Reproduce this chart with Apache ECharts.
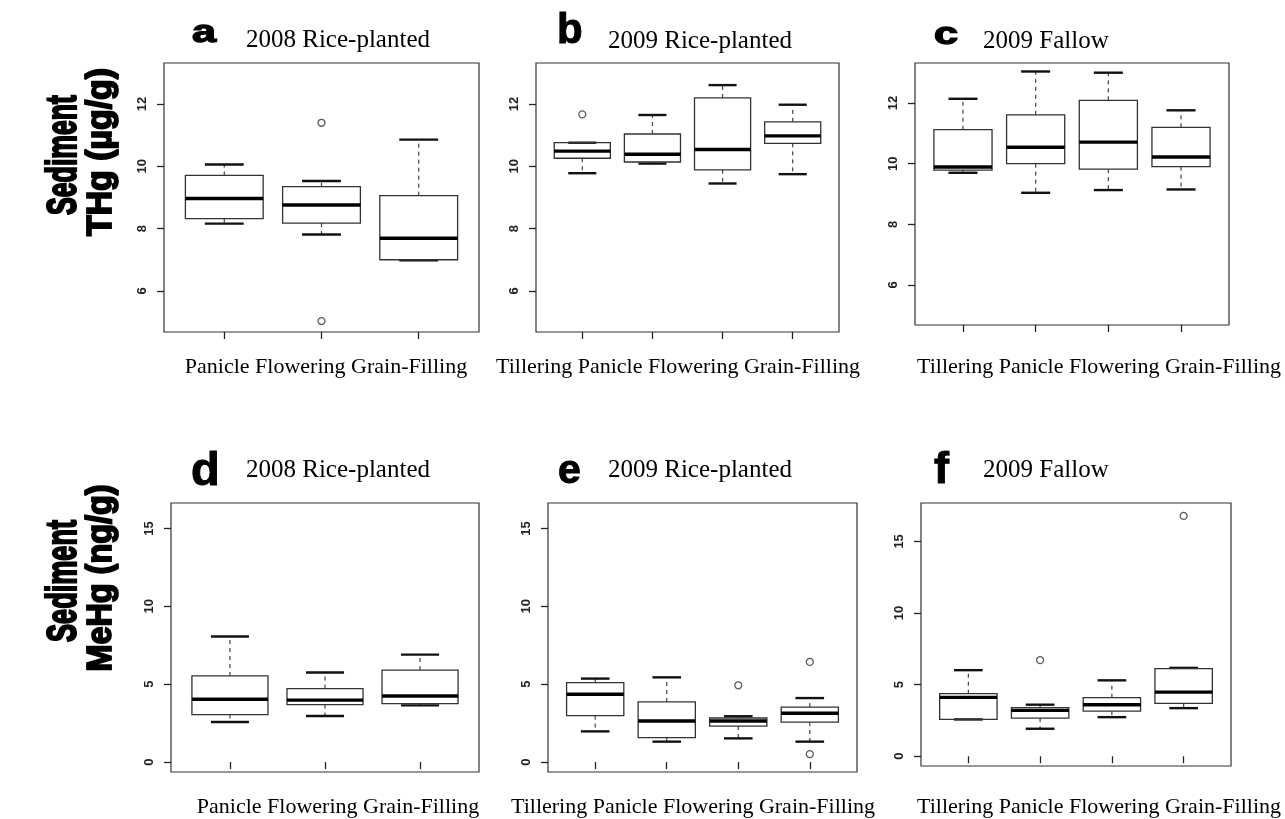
<!DOCTYPE html>
<html>
<head>
<meta charset="utf-8">
<script src="https://cdn.jsdelivr.net/npm/echarts@6/dist/echarts.min.js"></script>
<style>
html,body{margin:0;padding:0;background:#fff;}
#chart{width:1285px;height:819px;}
</style>
</head>
<body>
<div id="chart"></div>
<script>
// ---------------- DATA ----------------
const stages3 = ['Panicle', 'Flowering', 'Grain-Filling'];
const stages4 = ['Tillering', 'Panicle', 'Flowering', 'Grain-Filling'];

// box stats per stage: [lower whisker, Q1, median, Q3, upper whisker]
const thg2008Rice = [[8.16, 8.32, 8.97, 9.71, 10.06], [7.81, 8.18, 8.76, 9.35, 9.53], [6.98, 7.00, 7.69, 9.06, 10.86]];
const thg2009Rice = [[9.78, 10.26, 10.49, 10.76, 10.76], [10.09, 10.14, 10.39, 11.04, 11.65], [9.45, 9.89, 10.54, 12.20, 12.61], [9.75, 10.74, 10.98, 11.43, 11.98]];
const thg2009Fallow = [[9.70, 9.79, 9.89, 11.12, 12.14], [9.04, 10.00, 10.54, 11.61, 13.04], [9.13, 9.82, 10.71, 12.09, 13.00], [9.15, 9.90, 10.22, 11.20, 11.76]];
const mehg2008Rice = [[2.57, 3.05, 4.03, 5.53, 8.06], [2.96, 3.69, 3.98, 4.72, 5.75], [3.64, 3.75, 4.24, 5.91, 6.90]];
const mehg2009Rice = [[1.97, 2.98, 4.35, 5.10, 5.36], [1.31, 1.57, 2.64, 3.86, 5.44], [1.52, 2.31, 2.64, 2.83, 2.94], [1.31, 2.57, 3.13, 3.53, 4.11]];
const mehg2009Fallow = [[2.57, 2.57, 4.11, 4.37, 6.01], [1.92, 2.66, 3.20, 3.39, 3.60], [2.73, 3.15, 3.60, 4.09, 5.30], [3.36, 3.69, 4.48, 6.12, 6.17]];

// outliers: [stage number (1-based), value]
const thg2008RiceOut = [[2, 11.40], [2, 5.03]];
const thg2009RiceOut = [[1, 11.67]];
const thg2009FallowOut = [];
const mehg2008RiceOut = [];
const mehg2009RiceOut = [[3, 4.93], [4, 6.43], [4, 0.51]];
const mehg2009FallowOut = [[2, 6.71], [4, 16.78]];

const thgTicks = [6, 8, 10, 12];
const mehgTicks = [0, 5, 10, 15];
const thgRange = [4.68, 13.32];
const mehgRange = [-0.64, 16.64];
const mehgFallowRange = [-0.68, 17.68];

const panelLetters = ['a', 'b', 'c', 'd', 'e', 'f'];
const panelTitles = ['2008 Rice-planted', '2009 Rice-planted', '2009 Fallow', '2008 Rice-planted', '2009 Rice-planted', '2009 Fallow'];
const rowLabels = [['Sediment', 'THg (\u00b5g/g)'], ['Sediment', 'MeHg (ng/g)']];

// ---------------- LAYOUT ----------------
const panels = [
  {stats: thg2008Rice, out: thg2008RiceOut, cats: stages3, ticks: thgTicks, range: thgRange,
   grid: {left: 164, top: 63, width: 315, height: 269},
   letter: {x: 192, y: 33, size: 32, sx: 1.35, bold: 1.4}, title: {x: 246, y: 40}, xl: {x: 326, y: 367}},
  {stats: thg2009Rice, out: thg2009RiceOut, cats: stages4, ticks: thgTicks, range: thgRange,
   grid: {left: 536, top: 63, width: 303, height: 269},
   letter: {x: 557, y: 31, size: 42, sx: 1.0, bold: 1.0}, title: {x: 608, y: 41}, xl: {x: 678, y: 367}},
  {stats: thg2009Fallow, out: thg2009FallowOut, cats: stages4, ticks: thgTicks, range: thgRange,
   grid: {left: 915, top: 63, width: 314, height: 262},
   letter: {x: 934, y: 35, size: 32, sx: 1.35, bold: 1.4}, title: {x: 983, y: 41}, xl: {x: 1099, y: 367}},
  {stats: mehg2008Rice, out: mehg2008RiceOut, cats: stages3, ticks: mehgTicks, range: mehgRange,
   grid: {left: 171, top: 503, width: 308, height: 269},
   letter: {x: 191, y: 472, size: 47, sx: 1.0, bold: 1.0}, title: {x: 246, y: 470}, xl: {x: 338, y: 807}},
  {stats: mehg2009Rice, out: mehg2009RiceOut, cats: stages4, ticks: mehgTicks, range: mehgRange,
   grid: {left: 548, top: 503, width: 309, height: 269},
   letter: {x: 558, y: 472, size: 41, sx: 1.0, bold: 1.0}, title: {x: 608, y: 470}, xl: {x: 693, y: 807}},
  {stats: mehg2009Fallow, out: mehg2009FallowOut, cats: stages4, ticks: mehgTicks, range: mehgFallowRange,
   grid: {left: 921, top: 503, width: 310, height: 263},
   letter: {x: 934, y: 471, size: 45, sx: 1.0, bold: 1.0}, title: {x: 983, y: 470}, xl: {x: 1099, y: 807}}
];

const serif = '"Liberation Serif", "Times New Roman", serif';
const sans = '"Liberation Sans", Arial, Helvetica, sans-serif';

const measureCtx = document.createElement('canvas').getContext('2d');
function textWidth(text, font) { measureCtx.font = font; return measureCtx.measureText(text).width; }

function renderBox(params, api) {
  const x = api.value(0);
  const v = [1, 2, 3, 4, 5].map(k => api.value(k));
  const p = v.map(val => api.coord([x, val]));
  const cx = p[0][0];
  const hw = api.size([0.8, 0])[0] / 2;
  const cw = hw / 2;
  const yLo = p[0][1], yQ1 = p[1][1], yMed = p[2][1], yQ3 = p[3][1], yHi = p[4][1];
  const dash = {stroke: '#444', lineWidth: 1.2, lineDash: [4, 4]};
  return {
    type: 'group',
    children: [
      {type: 'line', shape: {x1: cx, y1: yQ3, x2: cx, y2: yHi}, style: dash},
      {type: 'line', shape: {x1: cx, y1: yQ1, x2: cx, y2: yLo}, style: dash},
      {type: 'line', shape: {x1: cx - cw, y1: yHi, x2: cx + cw, y2: yHi}, style: {stroke: '#111', lineWidth: 2.4}},
      {type: 'line', shape: {x1: cx - cw, y1: yLo, x2: cx + cw, y2: yLo}, style: {stroke: '#111', lineWidth: 2.4}},
      {type: 'rect', shape: {x: cx - hw, y: yQ3, width: 2 * hw, height: yQ1 - yQ3}, style: {fill: 'none', stroke: '#333', lineWidth: 1.3}},
      {type: 'line', shape: {x1: cx - hw, y1: yMed, x2: cx + hw, y2: yMed}, style: {stroke: '#000', lineWidth: 3.4}}
    ]
  };
}

const grids = [], xAxes = [], yAxes = [], series = [], graphics = [];
panels.forEach((pn, i) => {
  const n = pn.cats.length;
  const ext = n * 0.04;
  grids.push(Object.assign({show: true, borderColor: '#333', borderWidth: 1.2, backgroundColor: 'transparent'}, pn.grid));
  const xt = pn.cats.map((c, k) => k + 1);
  xAxes.push({
    type: 'value', gridIndex: i, min: 0.5 - ext, max: n + 0.5 + ext,
    axisLine: {show: false}, splitLine: {show: false},
    axisTick: {show: true, customValues: xt, length: 7, lineStyle: {color: '#222', width: 1.3}},
    axisLabel: {show: false}
  });
  yAxes.push({
    type: 'value', gridIndex: i, min: pn.range[0], max: pn.range[1],
    axisLine: {show: false}, splitLine: {show: false},
    axisTick: {show: true, customValues: pn.ticks, length: 7, lineStyle: {color: '#222', width: 1.3}},
    axisLabel: {show: true, customValues: pn.ticks, rotate: 90, margin: 15, color: '#222',
      fontFamily: sans, fontSize: 13, fontWeight: 'bold'}
  });
  series.push({
    type: 'custom', xAxisIndex: i, yAxisIndex: i, silent: true,
    data: pn.stats.map((s, k) => [k + 1].concat(s)),
    encode: {x: 0, y: [1, 2, 3, 4, 5]},
    renderItem: renderBox
  });
  series.push({
    type: 'scatter', xAxisIndex: i, yAxisIndex: i, silent: true,
    data: pn.out, symbol: 'circle', symbolSize: 7,
    itemStyle: {color: 'rgba(255,255,255,0)', borderColor: '#333', borderWidth: 1.3}
  });
  // panel letter
  graphics.push({type: 'text', x: pn.letter.x, y: pn.letter.y, scaleX: pn.letter.sx, scaleY: 1,
    style: {text: panelLetters[i], font: 'bold ' + pn.letter.size + 'px ' + sans, fill: '#000',
      stroke: '#000', lineWidth: pn.letter.bold,
      textAlign: 'left', textVerticalAlign: 'middle', align: 'left', verticalAlign: 'middle'}});
  // panel title
  graphics.push({type: 'text', x: pn.title.x, y: pn.title.y,
    style: {text: panelTitles[i], font: '25px ' + serif, fill: '#000',
      textAlign: 'left', textVerticalAlign: 'middle', align: 'left', verticalAlign: 'middle'}});
  // stage names line under the panel
  graphics.push({type: 'text', x: pn.xl.x, y: pn.xl.y,
    style: {text: pn.cats.join(' '), font: '22px ' + serif, fill: '#000',
      textAlign: 'center', textVerticalAlign: 'middle', align: 'center', verticalAlign: 'middle'}});
});

// row labels (rotated, bold)
const rowLabelPlace = [
  [{x: 64, y: 155, len: 120, thick: 1.4}, {x: 101, y: 152, len: 168, thick: 1.15}],
  [{x: 64, y: 581, len: 122, thick: 1.4}, {x: 101, y: 578, len: 187, thick: 1.15}]
];
const rowFont = 'bold 30px ' + sans;
rowLabels.forEach((pair, r) => {
  pair.forEach((txt, j) => {
    const pl = rowLabelPlace[r][j];
    const s = pl.len / textWidth(txt, rowFont);
    graphics.push({type: 'text', x: pl.x, y: pl.y, rotation: Math.PI / 2, scaleX: s, scaleY: pl.thick,
      style: {text: txt, font: rowFont, fill: '#000', stroke: '#000', lineWidth: 1.6,
        textAlign: 'center', textVerticalAlign: 'middle', align: 'center', verticalAlign: 'middle'}});
  });
});

const chart = echarts.init(document.getElementById('chart'), null, {renderer: 'canvas'});
chart.setOption({
  animation: false,
  backgroundColor: '#fff',
  grid: grids,
  xAxis: xAxes,
  yAxis: yAxes,
  series: series,
  graphic: {elements: graphics}
});
</script>
</body>
</html>
